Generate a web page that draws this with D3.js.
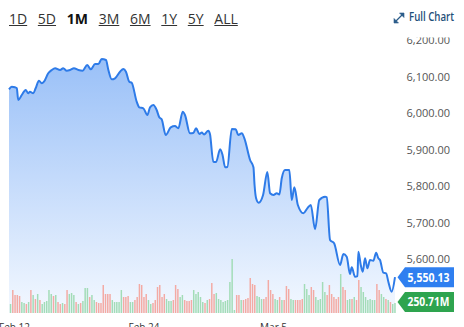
<!DOCTYPE html>
<html><head><meta charset="utf-8">
<script src="https://cdn.jsdelivr.net/npm/d3@7"></script>
<style>body{margin:0;background:#fff;} svg{display:block;font-family:"Open Sans",sans-serif;}</style>
</head><body><svg id="c" width="464" height="327"></svg>
<script>
const ranges = ["1D","5D","1M","3M","6M","1Y","5Y","ALL"];
const activeRange = "1M";
// trading days since Feb 12
const times = [-0.27,-0.12,0.05,0.15,0.23,0.42,0.63,0.77,0.86,1.04,1.17,1.35,1.50,1.62,1.85,2.04,2.22,2.49,2.66,2.85,3.03,3.24,3.48,3.71,3.96,4.15,4.38,4.56,4.74,4.97,5.10,5.28,5.46,5.73,5.91,6.05,6.23,6.36,6.63,6.77,6.99,7.21,7.35,7.53,7.71,7.85,7.98,8.20,8.47,8.70,8.88,9.12,9.24,9.51,9.69,9.84,10.02,10.15,10.27,10.50,10.59,10.77,10.92,11.14,11.27,11.41,11.53,11.77,11.98,12.12,12.31,12.45,12.76,12.94,13.00,13.08,13.22,13.46,13.69,13.84,14.02,14.20,14.34,14.47,14.65,14.88,15.01,15.15,15.34,15.64,15.85,16.04,16.27,16.50,16.81,16.90,17.08,17.30,17.62,17.80,17.98,18.16,18.25,18.43,18.56,18.61,18.74,18.85,18.97,19.10,19.24,19.42,19.57,19.69,19.78,19.96,20.11,20.23,20.41,20.59];
const prices = [6064.9,6072,6070.4,6067.7,6035.6,6049.3,6063,6054,6058.4,6054,6067.7,6088.5,6081.4,6085.8,6108.8,6117.8,6122.5,6117.8,6122.5,6115.9,6117.8,6122.5,6117.8,6115.9,6131.5,6119.7,6134.2,6134.2,6147.9,6145.2,6117.8,6092.3,6095.1,6113.2,6120.5,6113.2,6085.8,6083,6031,6015.6,6012.9,5994.5,6015.6,6021.9,6008.2,5988.2,5982.7,5939.7,5960.8,5964.4,5958.1,6003.6,5994.5,5944.4,5945.2,5958.1,5942.5,5946.6,5941.1,5951.5,5942.5,5866.6,5865.8,5900.5,5884.9,5851.2,5852.1,5956.2,5955.3,5939.7,5944.4,5930.7,5871.2,5851.2,5802.7,5767.1,5754.2,5775.3,5838.4,5780,5775.3,5780,5776.7,5821.1,5843.8,5843.8,5761.6,5796.4,5747.9,5725.2,5738.9,5747.9,5681.4,5761.6,5770.7,5769,5652.1,5643,5583.6,5613.7,5606.3,5558.9,5577.3,5551.5,5553.4,5620,5583.6,5565.2,5601.9,5574.5,5597.3,5595.4,5617.3,5601.9,5597.3,5562.5,5560.8,5537.8,5510.4,5550.13];
// volume, millions
const volumes = [225,575,450,450,425,275,250,225,275,575,450,350,475,325,225,275,300,575,475,425,450,275,225,250,225,575,475,500,450,275,225,250,300,625,625,400,450,325,275,250,250,700,475,475,475,325,275,275,275,575,400,400,425,275,275,325,400,725,700,400,475,325,225,250,325,650,700,400,475,350,300,300,325,700,600,400,450,325,300,300,325,575,475,
525,400,275,250,325,350,750,475,500,350,325,275,300,325,775,1350,75,450,450,325,325,350,375,875,725,700,425,400,350,350,400,825,575,475,350,325,400,325,325,675,600,350,325,325,325,325,350,725,600,450,650,575,400,325,350,775,525,450,700,475,400,350,400,975,650,575,325,350,350,400,325,825,650,525,400,325,350,325,325,725,575,475,400,350,325,275,225,250.71];
const volumeDirections = ("udddduudud"+"ududuuuuud"+"uddudduuud"+"uduuuduudd"+"ddddduuuuu"+"ddduuddddd"+"duuddddddu"+"uuddduuddd"+"duu"+
  "uuududdduu"+"uuuuuuuddu"+"dddddduuud"+"dddduududd"+"duudddduuu"+"dduuuuuddd"+"dddudduudu"+"dduuuuuuud"+"duududuu").split("");
const priceTicks = [5600,5700,5800,5900,6000,6100,6200];
const dateTicks = [0,7,14];
const dateLabels = ["Feb 12","Feb 24","Mar 5"];
const lastPriceLabel = "5,550.13";
const lastVolumeLabel = "250.71M";

const svg = d3.select("#c");
const x = d3.scaleLinear().domain([times[0], times[times.length-1]]).range([9, 395]);
const y = d3.scaleLinear().domain([5500, 6200]).range([295.5, 40]);
const vx = d3.scaleBand().domain(d3.range(volumes.length)).range([9, 396.5]).padding(0.35);
const vy = d3.scaleLinear().domain([0, 2500]).range([313, 213]);
const data = times.map((t,i)=>({t, v:prices[i]}));

const defs = svg.append("defs");
const g = defs.append("linearGradient").attr("id","fillg").attr("gradientUnits","userSpaceOnUse")
  .attr("x1",0).attr("x2",0).attr("y1",40).attr("y2",313);
g.append("stop").attr("offset","0%").attr("stop-color","#93bcf7");
g.append("stop").attr("offset","100%").attr("stop-color","#f3f8ff");
defs.append("clipPath").attr("id","axclip").append("rect").attr("x",380).attr("y",37.5).attr("width",84).attr("height",290);

// area
svg.append("path").datum(data)
  .attr("d", d3.area().x(d=>x(d.t)).y0(313).y1(d=>y(d.v)).curve(d3.curveMonotoneX))
  .attr("fill","url(#fillg)");

// volume bars
svg.append("g").selectAll("rect").data(volumes).join("rect")
  .attr("x",(d,i)=>vx(i)).attr("width",vx.bandwidth())
  .attr("y",d=>vy(d)).attr("height",d=>313-vy(d))
  .attr("fill",(d,i)=>volumeDirections[i]==="u" ? "#a2dcb7" : "#f3aaa4");

// line
svg.append("path").datum(data)
  .attr("d", d3.line().x(d=>x(d.t)).y(d=>y(d.v)).curve(d3.curveMonotoneX))
  .attr("fill","none").attr("stroke","#2e7be8").attr("stroke-width",2).attr("stroke-linejoin","round");

// y axis
const yAxis = d3.axisRight(y).tickValues(priceTicks).tickSize(0).tickPadding(0).tickFormat(d3.format(",.2f"));
const ya = svg.append("g").attr("transform","translate(450,0)").attr("clip-path","url(#axclip)").call(yAxis);
ya.select(".domain").remove();
ya.selectAll("text").attr("text-anchor","end").attr("x",0).attr("fill","#555").style("font-size","11px").style("font-family","'Open Sans',sans-serif");
ya.attr("clip-path",null);
svg.append("g").attr("clip-path","url(#axclip)").node().appendChild(ya.node());

// x axis
const xAxis = d3.axisBottom(x).tickValues(dateTicks).tickSize(0).tickPadding(0).tickFormat((d,i)=>dateLabels[i]);
const xa = svg.append("g").attr("transform","translate(0,324)").call(xAxis);
xa.select(".domain").remove();
xa.selectAll("text").attr("fill","#333").style("font-size","10px").style("font-family","'Open Sans',sans-serif").attr("dy","0.71em");

// range buttons
let bx = 9;
ranges.forEach(r=>{
  const t = svg.append("text").attr("x",bx).attr("y",24).text(r)
    .style("font-size","14px").attr("fill", r===activeRange ? "#111" : "#333")
    .style("font-weight", r===activeRange ? "700" : "400");
  const w = t.node().getComputedTextLength();
  if (r!==activeRange) svg.append("line").attr("x1",bx).attr("x2",bx+w).attr("y1",25.5).attr("y2",25.5).attr("stroke","#333").attr("stroke-width",1);
  bx += w + 10.7;
});

// Full chart
const ic = svg.append("g").attr("stroke","#2b5d8a").attr("fill","#2b5d8a").attr("stroke-width",1.3);
ic.append("line").attr("x1",395.5).attr("y1",21.5).attr("x2",402.5).attr("y2",14.5);
ic.append("path").attr("d","M399.5,13 L404,13 L404,17.5 Z").attr("stroke-width",0.6);
ic.append("path").attr("d","M394,18.5 L394,23 L398.5,23 Z").attr("stroke-width",0.6);
svg.append("text").attr("x",409).attr("y",21).text("Full Chart").attr("fill","#1f4f7a")
  .style("font-size","12px").style("font-weight","600").attr("textLength",45).attr("lengthAdjust","spacingAndGlyphs");

// last price tag
function tag(cy, color, label){
  svg.append("path").attr("d",`M397.5,${cy} L405,${cy-10} L454,${cy-10} L454,${cy+10} L405,${cy+10} Z`).attr("fill",color);
  svg.append("text").attr("x",428.5).attr("y",cy).attr("dy","0.36em").attr("text-anchor","middle").text(label)
    .attr("fill","#fff").style("font-size","12px").style("font-weight","700").attr("textLength",42).attr("lengthAdjust","spacingAndGlyphs");
}
tag(y(prices[prices.length-1]), "#2f7ff0", lastPriceLabel);
tag(vy(volumes[volumes.length-1]) - 1, "#2ea44f", lastVolumeLabel);
</script></body></html>
